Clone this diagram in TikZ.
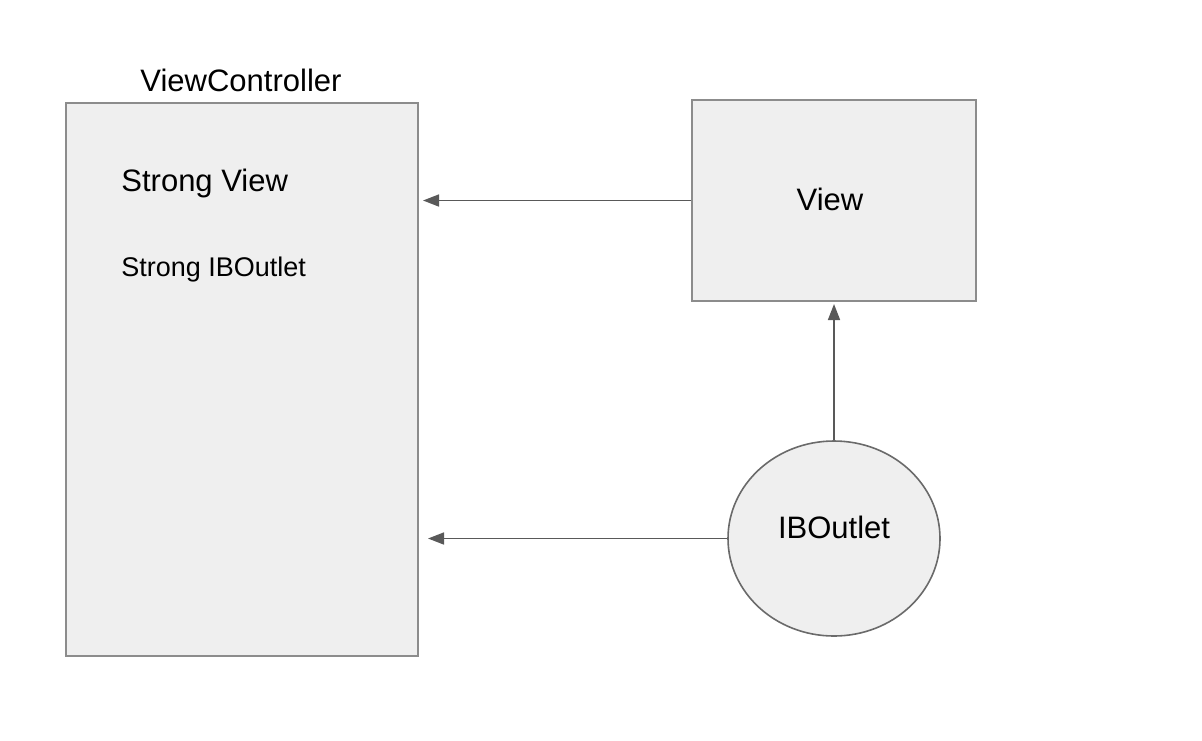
\documentclass[tikz,border=0pt]{standalone}
\usepackage{fontspec}
\setmainfont{Liberation Sans}
\usepackage{xcolor}
\usetikzlibrary{arrows.meta,shapes.geometric}
\definecolor{cFundo}{HTML}{EFEFEF}
\definecolor{cBorda}{HTML}{8C8C8C}
\definecolor{cSeta}{HTML}{595959}

\begin{document}
\begin{tikzpicture}[
  x=0.5pt,y=-0.5pt,
  cls/.style={draw=cBorda,fill=cFundo,line width=1pt,inner sep=0pt},
  obj/.style={draw=cSeta!90,fill=cFundo,line width=0.8pt,ellipse,inner sep=0pt,
              minimum width=106pt,minimum height=97.5pt},
  txt/.style={inner sep=0pt,font=\fontsize{15.5}{18}\selectfont},
  txtp/.style={inner sep=0pt,font=\fontsize{13.5}{16}\selectfont},
  ar/.style={-{Triangle[length=8pt,width=6pt]},draw=cSeta,line width=0.8pt}
]
\useasboundingbox (0,0) rectangle (1202,740);

% ---- caixas
\node[cls,minimum width=176pt,minimum height=276.5pt] (vc) at (242,379.5) {};
\node[cls,minimum width=142pt,minimum height=100.5pt] (view) at (834,200.5) {};
\node[obj] (io) at (834,538.5) {};

% ---- textos
\node[txt] (vcl) at (241,80) {ViewController};
\node[txt,anchor=west] (sv) at (121,183) {Strong View};
\node[txtp,anchor=west] (sio) at (121,270) {Strong IBOutlet};
\node[txt] (viewl) at (830,199) {View};
\node[txt] (iol) at (834,527) {IBOutlet};

% ---- setas
\draw[ar,shorten >=2pt] (view.west) -- (vc.east |- view.west);
\draw[ar,shorten >=4.5pt] (io.west) -- (vc.east |- io.west);
\draw[ar,shorten >=1pt] (io.north) -- (view.south);
\end{tikzpicture}
\end{document}
